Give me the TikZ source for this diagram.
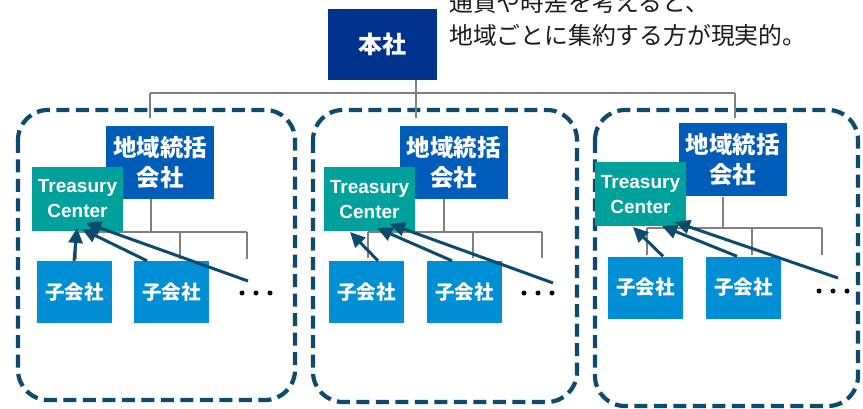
\documentclass[tikz,border=0pt]{standalone}
\usepackage{fontspec}
\setmainfont{Noto Sans CJK JP}
\newfontfamily\latf{Liberation Sans}
\usetikzlibrary{arrows.meta}
\definecolor{hq}{HTML}{00338D}
\definecolor{reg}{HTML}{005CB9}
\definecolor{tc}{HTML}{00A19A}
\definecolor{sub}{HTML}{008FD5}
\definecolor{dk}{HTML}{0E4A6E}
\definecolor{gl}{HTML}{808080}
\definecolor{txt}{HTML}{1A1A1A}
\tikzset{
  boxbase/.style={inner sep=0pt, text=white, align=center},
  hqbox/.style={boxbase, fill=hq, minimum width=109pt, minimum height=71pt, font=\fontsize{24}{26}\selectfont\bfseries},
  regbox/.style={boxbase, fill=reg, minimum width=108pt, minimum height=73pt, font=\fontsize{23.5}{30}\selectfont\bfseries},
  tcbox/.style={boxbase, fill=tc, minimum width=91pt, minimum height=64pt, font=\latf\fontsize{19}{25}\selectfont\bfseries},
  subbox/.style={boxbase, fill=sub, minimum width=75pt, minimum height=62pt, font=\fontsize{19.5}{21}\selectfont\bfseries},
  panel/.style={draw=dk, line width=4.2pt, dash pattern=on 13pt off 6.5pt, rounded corners=30pt},
  gline/.style={draw=gl, line width=2.5pt},
  tcarrow/.style={draw=dk, line width=3pt, -{Triangle[length=15pt,width=14pt]}},
  dotmark/.style={fill=black}
}
\begin{document}
\begin{tikzpicture}[x=1pt,y=-1pt]
\useasboundingbox (0,0) rectangle (863,409);
\fill[white] (0,0) rectangle (863,409);

% panels
\draw[panel] (18,110) rectangle (295,400);
\draw[panel] (313,110) rectangle (577,402);
\draw[panel] (595,110) rectangle (858,406);

% top connectors
\node[hqbox] (hq) at (382.5,44.5) {本社};
\coordinate (hqb) at (416,80);
\coordinate (tj) at (416,93);
\coordinate (d1) at (150,118);
\coordinate (d2) at (416,118);
\coordinate (d3) at (735,118);
\draw[gline] (hqb) -- (tj);
\draw[gline] (d1 |- tj) -- (d3 |- tj);
\draw[gline] (d1 |- tj) -- (d1);
\draw[gline] (tj) -- (d2);
\draw[gline] (d3 |- tj) -- (d3);

\node[anchor=west, align=left, text=txt, inner sep=0pt,
      font=\fontsize{23.8}{33}\selectfont] (note) at (449,18.5)
  {通貨や時差を考えると、\\地域ごとに集約する方が現実的。};

% ---------- panel 1
\node[regbox] (r1) at (160,162.5) {地域統括\\会社};
\coordinate (r1b) at (151,199);
\coordinate (h1) at (151,232);
\coordinate (e11) at (76,259);
\coordinate (e12) at (180,259);
\coordinate (e13) at (247,259);
\draw[gline] (r1b) -- (h1);
\draw[gline] (e11 |- h1) -- (e13 |- h1);
\draw[gline] (e11 |- h1) -- (e11);
\draw[gline] (e12 |- h1) -- (e12);
\draw[gline] (e13 |- h1) -- (e13);
\node[tcbox] (t1) at (77.5,199) {Treasury\\Center};
\node[subbox] (s11) at (74.5,292) {子会社};
\node[subbox] (s12) at (171.5,292) {子会社};
\coordinate (o1) at (248,281);
\foreach \x in {242,256,270} \fill[dotmark] (\x,293) circle (2.5pt);
\draw[tcarrow] (s11.north -| 74,0) -- (77,228);
\draw[tcarrow] (s12.north -| 147,0) -- (82,229);
\draw[tcarrow] (o1) -- (86,223);

% ---------- panel 2
\node[regbox] (r2) at (453.5,162.5) {地域統括\\会社};
\coordinate (r2b) at (444,199);
\coordinate (h2) at (444,232);
\coordinate (e21) at (368,258);
\coordinate (e22) at (473,258);
\coordinate (e23) at (542,258);
\draw[gline] (r2b) -- (h2);
\draw[gline] (e21 |- h2) -- (e23 |- h2);
\draw[gline] (e21 |- h2) -- (e21);
\draw[gline] (e22 |- h2) -- (e22);
\draw[gline] (e23 |- h2) -- (e23);
\node[tcbox] (t2) at (369.5,199.5) {Treasury\\Center};
\node[subbox] (s21) at (366.5,292) {子会社};
\node[subbox] (s22) at (464.5,292) {子会社};
\coordinate (o2) at (553,283);
\foreach \x in {524,538,552} \fill[dotmark] (\x,293) circle (2.5pt);
\draw[tcarrow] (s21.north -| 378,0) -- (350,232);
\draw[tcarrow] (s22.north -| 452,0) -- (377,228);
\draw[tcarrow] (o2) -- (390,224);

% ---------- panel 3
\node[regbox] (r3) at (732.5,160) {地域統括\\会社};
\coordinate (r3b) at (723,197);
\coordinate (h3) at (723,228);
\coordinate (e31) at (647,255);
\coordinate (e32) at (752,255);
\coordinate (e33) at (822,255);
\draw[gline] (r3b) -- (h3);
\draw[gline] (e31 |- h3) -- (e33 |- h3);
\draw[gline] (e31 |- h3) -- (e31);
\draw[gline] (e32 |- h3) -- (e32);
\draw[gline] (e33 |- h3) -- (e33);
\node[tcbox] (t3) at (640.5,194.5) {Treasury\\Center};
\node[subbox] (s31) at (645.5,287.5) {子会社};
\node[subbox] (s32) at (743.5,287.5) {子会社};
\coordinate (o3) at (838,278);
\foreach \x in {819,833,847} \fill[dotmark] (\x,291) circle (2.5pt);
\draw[tcarrow] (s31.north -| 663,0) -- (633,227);
\draw[tcarrow] (s32.north -| 737,0) -- (662,226);
\draw[tcarrow] (o3) -- (675,222);
\end{tikzpicture}
\end{document}
